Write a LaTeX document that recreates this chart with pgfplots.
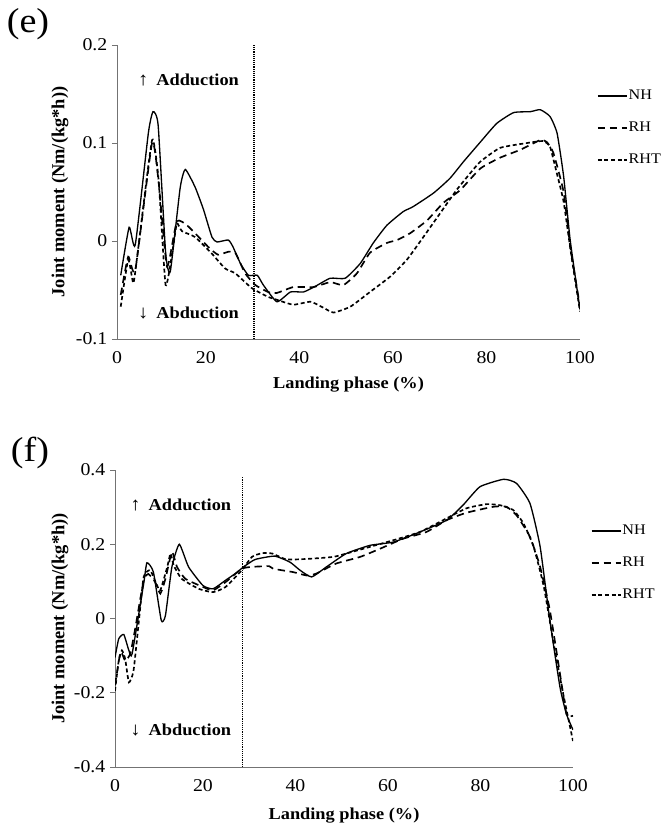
\documentclass[border=0pt]{standalone}
\usepackage{fontspec}
\setmainfont{Liberation Serif}[FakeStretch=1.1]
\newfontfamily\ylabfont{Liberation Serif}
\usepackage{pgfplots}
\pgfplotsset{compat=1.18}
\begin{document}
\begin{tikzpicture}
\path[use as bounding box] (0,0) rectangle (496.5pt,618.75pt);
\pgfplotsset{
  jm/.style={
    scale only axis,
    anchor=south west,
    xmin=1, xmax=100,
    axis x line*=bottom, axis y line*=left,
    axis line style={black!55, line width=0.6pt},
    xtick={1,20,40,60,80,100},
    xticklabels={0,20,40,60,80,100},
    xtick style={draw=none},
    ytick style={black!55, line width=0.6pt},
    tick align=outside,
    major tick length=3.75pt,
    /pgf/number format/assume math mode=true,
    ticklabel style={font=\fontsize{13.5}{15}\selectfont},
    xticklabel style={yshift=-2pt},
    xlabel={\textbf{Landing phase (\%)}},
    xlabel style={font=\fontsize{12.5}{14}\selectfont},
    ylabel={\textbf{Joint moment (Nm/(kg*h))}},
    ylabel style={font=\ylabfont\fontsize{13.8}{15}\selectfont},
    legend style={draw=none, fill=none, anchor=north west,
      font=\fontsize{11}{13}\selectfont, row sep=14pt,
      nodes={inner sep=0.6pt}, inner sep=0pt},
    legend cell align=left,
    legend image code/.code={\draw[#1] (0pt,0pt) -- (22pt,0pt);},
  },
  nh/.style={black, line width=1pt, solid, smooth, tension=0.3},
  rh/.style={black, line width=1.25pt, dash pattern=on 5.5pt off 3.5pt, smooth, tension=0.3},
  rht/.style={black, line width=1.25pt, dash pattern=on 3pt off 2pt, smooth, tension=0.3},
  vl/.style={black, line width=1pt, dash pattern=on 0.7pt off 0.7pt, forget plot},
}
% ---------------- panel (e)
\begin{axis}[jm,
  at={(87.75pt,364.5pt)}, width=347.25pt, height=220.5pt,
  ymin=-0.1, ymax=0.2,
  ytick={-0.1,0,0.1,0.2}, yticklabels={-0.1,0,0.1,0.2},
  xlabel style={at={(axis description cs:0.5,-0.156)}, anchor=center},
  ylabel style={at={(axis description cs:-0.123,0.5)}, anchor=center},
  legend style={at={(axis description cs:1.036,0.85)}},
]
\addplot[nh] coordinates {
(1.8,-0.035)(3.6,0.014)(4.9,-0.004)(7.7,0.11)(8.7,0.132)(9.8,0.118)(11.4,-0.012)(12.4,-0.031)
(14.5,0.054)(15.6,0.073)(17.7,0.055)(19.5,0.032)(21.3,0.004)(22.4,-0.001)(24.8,0.001)(25.8,-0.006)
(27.4,-0.023)(29.1,-0.035)(31,-0.035)(32.3,-0.045)(35.2,-0.062)(38.1,-0.052)(40.9,-0.052)(43.5,-0.046)
(46.6,-0.038)(49.8,-0.038)(53,-0.023)(55.8,-0.002)(58.7,0.016)(62.2,0.030)(64.3,0.035)(68.7,0.049)
(72.2,0.064)(75.1,0.081)(78.7,0.101)(82.2,0.12)(85.8,0.131)(89.4,0.132)(91.5,0.134)(93.6,0.127)
(95.1,0.11)(96.5,0.066)(97.9,0.001)(100,-0.07)};
\addlegendentry{NH}
\addplot[rh] coordinates {
(1.8,-0.055)(3.4,-0.016)(4.9,-0.03)(8.5,0.10)(9.9,0.06)(11.7,-0.026)(13.8,0.02)(16.2,0.015)
(20.5,-0.006)(22.6,-0.014)(24.8,-0.011)(26.3,-0.012)(28.4,-0.033)(30.6,-0.045)(33.3,-0.052)(35.2,-0.053)
(38.7,-0.047)(43,-0.047)(46.6,-0.042)(49.4,-0.045)(52.3,-0.033)(55.1,-0.012)(58.7,-0.002)(60.9,0.001)
(63.7,0.008)(67.3,0.021)(70.8,0.039)(74.4,0.052)(78.7,0.074)(82.9,0.085)(87.2,0.093)(91.5,0.103)
(92.9,0.101)(94.3,0.09)(96.5,0.05)(97.9,-0.005)(100,-0.067)};
\addlegendentry{RH}
\addplot[rht] coordinates {
(1.8,-0.067)(3.4,-0.019)(4.5,-0.043)(5.5,-0.009)(8.5,0.103)(9.9,0.062)(11.4,-0.045)(13,-0.006)
(13.8,0.018)(14.9,0.01)(17.7,0.004)(21.3,-0.013)(24.1,-0.028)(26.3,-0.033)(29.8,-0.048)(33.3,-0.057)
(35.2,-0.06)(38.7,-0.065)(42.4,-0.062)(45.1,-0.068)(47.3,-0.073)(50.9,-0.067)(55.1,-0.052)(59.5,-0.036)
(63,-0.019)(66.5,0.004)(70.2,0.029)(73.6,0.052)(76.5,0.069)(78.7,0.081)(82.9,0.095)(88.7,0.10)
(92.1,0.102)(93.6,0.096)(95,0.07)(96.5,0.04)(98,-0.01)(100,-0.072)};
\addlegendentry{RHT}
\addplot[vl] coordinates {(30.3,-0.1)(30.3,0.2)};
\node[anchor=west, inner sep=0pt, font=\fontsize{12.5}{14}\selectfont] at (axis description cs:0.045,0.881) {{\fontsize{14}{14}\selectfont↑}\hspace{6pt}\textbf{Adduction}};
\node[anchor=west, inner sep=0pt, font=\fontsize{12.5}{14}\selectfont] at (axis description cs:0.045,0.088) {{\fontsize{14}{14}\selectfont↓}\hspace{6pt}\textbf{Abduction}};
\end{axis}
% ---------------- panel (f)
\begin{axis}[jm,
  at={(86.25pt,43.5pt)}, width=343.5pt, height=222.75pt,
  ymin=-0.4, ymax=0.4,
  ytick={-0.4,-0.2,0,0.2,0.4}, yticklabels={-0.4,-0.2,0,0.2,0.4},
  xlabel style={at={(axis description cs:0.5,-0.162)}, anchor=center},
  ylabel style={at={(axis description cs:-0.12,0.5)}, anchor=center},
  legend style={at={(axis description cs:1.038,0.818)}},
]
\addplot[nh] coordinates {
(1,-0.105)(1.8,-0.055)(2.9,-0.043)(4,-0.086)(4.7,-0.095)(7.2,0.094)(7.9,0.15)(9.3,0.125)
(11,-0.005)(11.9,0.008)(13.3,0.139)(14.9,0.2)(16.9,0.139)(20,0.089)(22.2,0.08)(24.9,0.103)
(27,0.121)(28.8,0.139)(31.3,0.159)(35.5,0.168)(38.8,0.152)(41,0.13)(43.5,0.112)(46.7,0.139)
(51,0.175)(56.1,0.197)(61.2,0.206)(66.9,0.233)(72.7,0.265)(76.2,0.305)(79.9,0.355)(85,0.375)
(87.8,0.364)(90.7,0.31)(92.9,0.193)(95,-0.005)(97.2,-0.186)(98.6,-0.258)(100,-0.30)};
\addlegendentry{NH}
\addplot[rh] coordinates {
(1,-0.18)(2.2,-0.09)(3.2,-0.114)(4.3,-0.095)(5.3,-0.032)(7.2,0.103)(8.2,0.12)(9.7,0.098)
(10.8,0.067)(11.9,0.107)(13.3,0.179)(14.4,0.139)(16.2,0.107)(20,0.085)(22.2,0.076)(24.9,0.098)
(28.4,0.134)(30.6,0.139)(34.3,0.141)(35.2,0.134)(39.5,0.125)(42.4,0.116)(44.5,0.121)(48.8,0.148)
(54,0.166)(58.3,0.188)(63.3,0.215)(68.3,0.233)(72.7,0.265)(77,0.285)(82.8,0.301)(85.6,0.301)
(87.8,0.278)(90.7,0.22)(92.9,0.139)(95,0.022)(97.2,-0.15)(98.6,-0.258)(100,-0.262)};
\addlegendentry{RH}
\addplot[rht] coordinates {
(1,-0.195)(1.8,-0.114)(2.5,-0.086)(3.2,-0.109)(4,-0.172)(5,-0.141)(6.1,-0.014)(7.2,0.112)
(8.6,0.13)(10.1,0.089)(10.8,0.076)(12.3,0.139)(13,0.175)(13.7,0.143)(15.4,0.107)(19.1,0.08)
(22.2,0.071)(24.9,0.085)(28.4,0.13)(30.6,0.166)(32.8,0.176)(35,0.175)(38.1,0.159)(43.2,0.161)
(48.2,0.166)(51,0.175)(56.1,0.193)(61.2,0.211)(66.9,0.233)(72.7,0.27)(77,0.297)(81.3,0.308)
(84.3,0.305)(87.1,0.292)(89.3,0.256)(91.5,0.193)(93.7,0.085)(95.7,-0.059)(97.9,-0.204)(100,-0.33)};
\addlegendentry{RHT}
\addplot[vl] coordinates {(28.6,-0.4)(28.6,0.38)};
\node[anchor=west, inner sep=0pt, font=\fontsize{12.5}{14}\selectfont] at (axis description cs:0.033,0.882) {{\fontsize{14}{14}\selectfont↑}\hspace{6pt}\textbf{Adduction}};
\node[anchor=west, inner sep=0pt, font=\fontsize{12.5}{14}\selectfont] at (axis description cs:0.033,0.125) {{\fontsize{14}{14}\selectfont↓}\hspace{6pt}\textbf{Abduction}};
\end{axis}
\node[font=\fontsize{26}{28}\selectfont] at (21pt,600.75pt) {(e)};
\node[font=\fontsize{26}{28}\selectfont] at (22.5pt,279pt) {(f)};
\end{tikzpicture}
\end{document}
